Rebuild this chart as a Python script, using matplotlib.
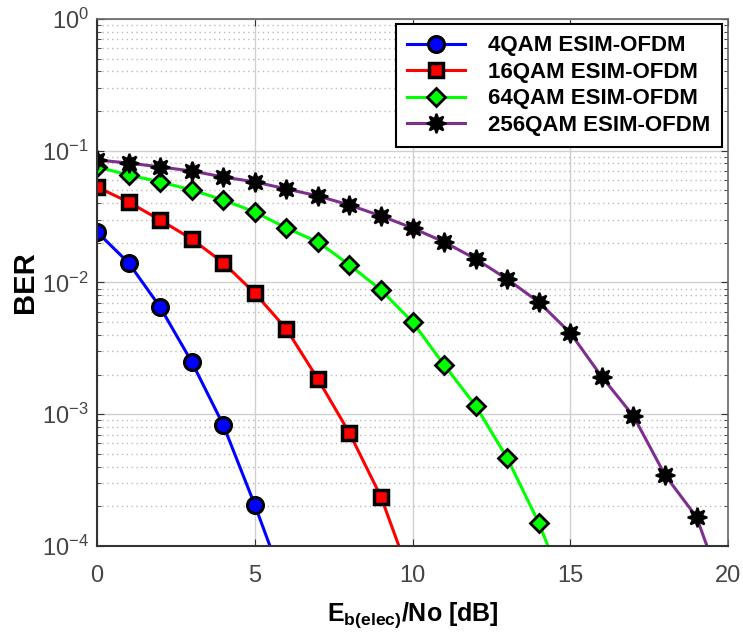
import matplotlib.pyplot as plt
from matplotlib.ticker import LogLocator, NullFormatter, FixedLocator
import numpy as np

plt.rcParams['font.family'] = ['Liberation Sans', 'DejaVu Sans']
plt.rcParams['mathtext.fontset'] = 'custom'
plt.rcParams['mathtext.rm'] = 'Liberation Sans'
plt.rcParams['mathtext.it'] = 'Liberation Sans:italic'
plt.rcParams['mathtext.bf'] = 'Liberation Sans:bold'

# Eb/No in dB
snr_4 = [0, 1, 2, 3, 4, 5, 6]
snr_16 = [0, 1, 2, 3, 4, 5, 6, 7, 8, 9, 10]
snr_64 = list(range(0, 16))
snr_256 = list(range(0, 21))

ber_4 = [0.0242, 0.0141, 0.0065, 0.0025, 8.3e-4, 2.05e-4, 4.6e-5]
ber_16 = [0.053, 0.0408, 0.0298, 0.0214, 0.0141, 0.0083, 0.00444,
          0.00185, 7.2e-4, 2.36e-4, 5.2e-5]
ber_64 = [0.0753, 0.0655, 0.058, 0.0504, 0.0423, 0.0343, 0.0259, 0.0203,
          0.0136, 0.00877, 0.00501, 0.00237, 0.00116, 4.65e-4, 1.5e-4, 3.7e-5]
ber_256 = [0.085, 0.0807, 0.0753, 0.0702, 0.0632, 0.058, 0.0513, 0.0454,
           0.0387, 0.032, 0.0259, 0.0203, 0.0151, 0.0106, 0.0071, 0.00414,
           0.00192, 9.7e-4, 3.46e-4, 1.66e-4, 3.6e-5]

labels = ['4QAM ESIM-OFDM', '16QAM ESIM-OFDM', '64QAM ESIM-OFDM',
          '256QAM ESIM-OFDM']

fig = plt.figure(figsize=(7.43, 6.41), dpi=100)
ax = fig.add_axes([0.1306, 0.1482, 0.8493, 0.8222])

ax.semilogy(snr_4, ber_4, '-', color='#0000ff', lw=2.2,
            marker='o', ms=11.5, mfc='#0000ff', mec='black', mew=2.2,
            label=labels[0])
ax.semilogy(snr_16, ber_16, '-', color='#ff0000', lw=2.2,
            marker='s', ms=9.5, mfc='#ff0000', mec='black', mew=2.5,
            label=labels[1])
ax.semilogy(snr_64, ber_64, '-', color='#00ff00', lw=2.2,
            marker='D', ms=9.5, mfc='#00ff00', mec='black', mew=2.0,
            label=labels[2])
ax.semilogy(snr_256, ber_256, '-', color='#7e2f8e', lw=2.2,
            marker=(8, 1, 0), ms=14, mfc='black', mec='black', mew=1.5,
            label=labels[3])

ax.set_xlim(0, 20)
ax.set_ylim(1e-4, 1)
ax.xaxis.set_major_locator(FixedLocator([0, 5, 10, 15, 20]))
ax.yaxis.set_major_locator(LogLocator(base=10, numticks=10))
ax.yaxis.set_minor_locator(LogLocator(base=10, subs=np.arange(2, 10), numticks=10))
ax.yaxis.set_minor_formatter(NullFormatter())

ax.grid(True, which='major', color='#d0d0d0', lw=1.0, ls='-')
ax.grid(True, which='minor', axis='y', color='#bbbbbb', lw=1.0, ls=(0, (1, 2.5)))
ax.set_axisbelow(True)

ax.tick_params(which='both', direction='in', top=True, right=True,
               colors='#333333', labelcolor='#444444', labelsize=17)
ax.tick_params(axis='x', pad=14)
ax.tick_params(axis='y', pad=6)
ax.tick_params(which='major', length=5)
ax.tick_params(which='minor', length=3)

for side in ['left', 'bottom']:
    ax.spines[side].set_color('#333333')
    ax.spines[side].set_linewidth(1.5)
for side in ['top', 'right']:
    ax.spines[side].set_color('#666666')
    ax.spines[side].set_linewidth(1.2)

ax.set_ylabel('BER', fontsize=21, fontweight='bold', labelpad=2)
ax.set_xlabel(r'E$_{\mathbf{b(elec)}}$/No [dB]', fontsize=18,
              fontweight='bold', labelpad=9)

leg = ax.legend(loc='upper right', bbox_to_anchor=(0.99, 0.99),
                borderaxespad=0, frameon=True, fancybox=False,
                edgecolor='black', framealpha=1, handlelength=2.6,
                handletextpad=1.05, labelspacing=0.25, borderpad=0.5,
                prop={'weight': 'bold', 'size': 16})
leg.get_frame().set_linewidth(1.5)

fig.savefig('out.png', dpi=100)
